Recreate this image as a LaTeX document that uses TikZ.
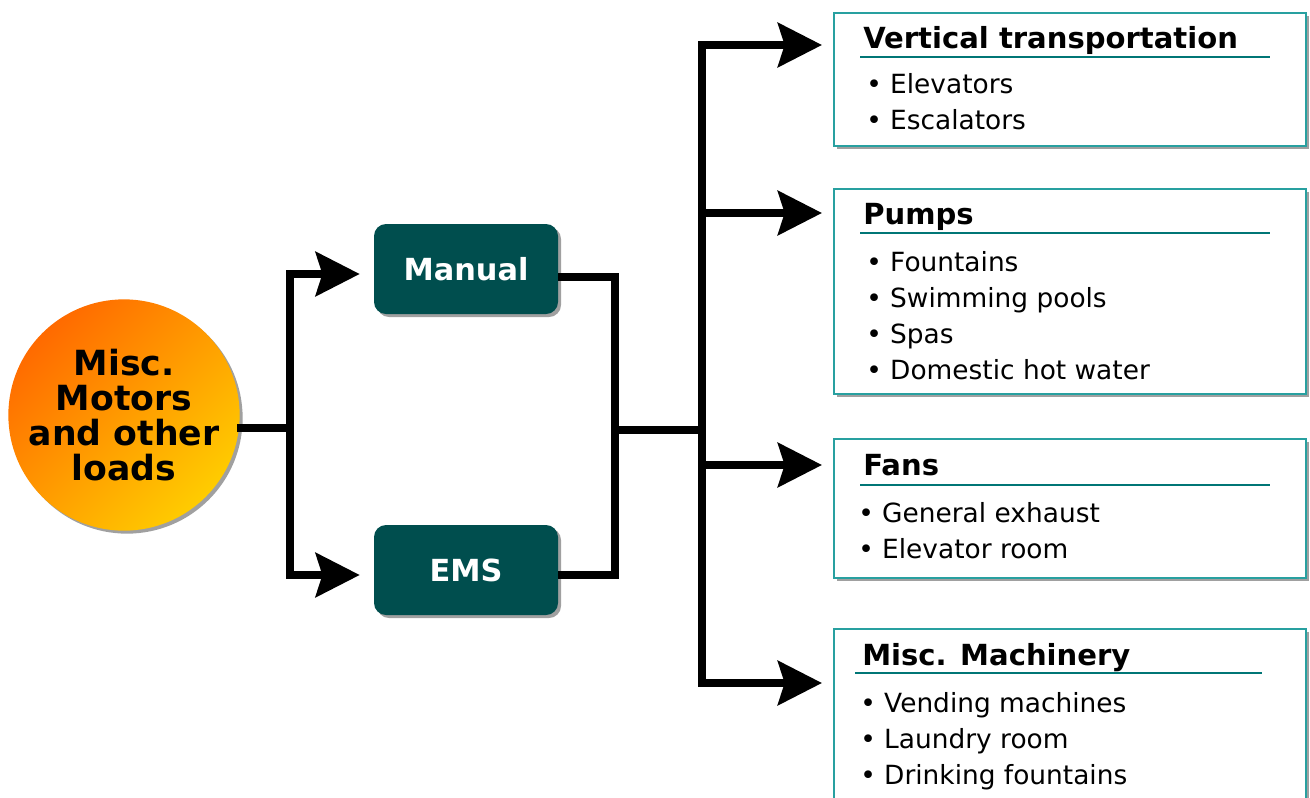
\documentclass[tikz,border=0pt]{standalone}
\usepackage{fontspec}
\setmainfont{DejaVu Sans}
\usetikzlibrary{arrows.meta,shadows,calc}
\definecolor{deepteal}{RGB}{0,78,78}
\definecolor{frameteal}{RGB}{40,160,160}
\definecolor{ruleteal}{RGB}{0,118,118}
\definecolor{hotorange}{RGB}{255,106,0}
\definecolor{sunyellow}{RGB}{255,204,0}
\definecolor{shadowgrey}{RGB}{160,160,160}

\begin{document}
\begin{tikzpicture}[x=0.75pt,y=-0.75pt,
  wire/.style={line width=6pt, line cap=butt, line join=miter},
  arr/.style={wire, -{Stealth[length=33pt,width=33pt,inset=5pt]}},
  dshadow/.style={drop shadow={shadow xshift=2.25pt, shadow yshift=-2.25pt, fill=shadowgrey, opacity=1}},
  source/.style={circle, minimum size=171pt, inner sep=0pt, align=center,
    left color=hotorange, right color=sunyellow, shading angle=45, dshadow,
    font=\bfseries\fontsize{26}{26.25}\selectfont},
  mode/.style={rounded corners=9pt, fill=deepteal, text=white, dshadow,
    minimum width=138pt, minimum height=67.5pt,
    font=\bfseries\fontsize{22.8}{27}\selectfont},
  panel/.style={draw=frameteal, line width=1.2pt, fill=white, dshadow,
    anchor=north west, minimum width=354pt, inner sep=0pt},
  title/.style={anchor=base west, inner sep=0pt, font=\bfseries\fontsize{21.8}{25}\selectfont},
  item/.style={anchor=base west, inner sep=0pt, font=\fontsize{19.8}{27}\selectfont},
  uline/.style={draw=ruleteal, line width=1.5pt}
]
\useasboundingbox (0,0) rectangle (1310,797);

% source of the loads
\node[source] (src) at (124,415) {Misc.\\Motors\\and other\\loads};

% control modes
\node[mode] (manual) at (466,269) {Manual};
\node[mode] (ems) at (466,570) {EMS};

% load categories
\node[panel, minimum height=99.75pt] (vt) at (833,12) {};
\node[panel, minimum height=153.75pt] (pumps) at (833,188) {};
\node[panel, minimum height=104.25pt] (fans) at (833,438) {};
\node[panel, minimum height=136.5pt] (mach) at (833,628) {};

% panel contents
\node[title] (vtT) at (863,48) {Vertical transportation};
\draw[uline] (860,57) -- (1270,57);
\node[item] at (866,93) {• Elevators};
\node[item] at (866,129) {• Escalators};

\node[title] (pumpsT) at (863,224) {Pumps};
\draw[uline] (860,233) -- (1270,233);
\node[item] at (866,271) {• Fountains};
\node[item] at (866,307) {• Swimming pools};
\node[item] at (866,343) {• Spas};
\node[item] at (866,379) {• Domestic hot water};

\node[title] (fansT) at (863,475) {Fans};
\node[item] at (858,522) {• General exhaust};
\node[item] at (858,558) {• Elevator room};
\draw[uline] (860,485) -- (1270,485);

\node[title] (machT) at (862,665) {Misc. Machinery};
\draw[uline] (855,673) -- (1262,673);
\node[item] at (860,712) {• Vending machines};
\node[item] at (860,748) {• Laundry room};
\node[item] at (860,784) {• Drinking fountains};

% wiring: source to modes
\coordinate (fork) at (290,428);
\draw[wire] ($(src.center)+(113,13)$) -- (fork);
\draw[arr] (fork) |- ($(manual.west)+(-14,5)$);
\draw[arr] (fork) |- ($(ems.west)+(-14,5)$);

% wiring: modes to load categories
\coordinate (join) at (615,430);
\coordinate (spine) at (702,430);
\draw[wire] ($(manual.east)+(0,8)$) -| (join) |- ($(ems.east)+(0,5)$);
\draw[wire] (join) -- (spine);
\coordinate (r1) at (0,45);
\coordinate (r2) at (0,213);
\coordinate (r3) at (0,465);
\coordinate (r4) at (0,683);
\draw[arr] (spine) |- ([xshift=-8.25pt]vt.west |- r1);
\draw[arr] (spine) |- ([xshift=-8.25pt]pumps.west |- r2);
\draw[arr] (spine) |- ([xshift=-8.25pt]fans.west |- r3);
\draw[arr] (spine) |- ([xshift=-8.25pt]mach.west |- r4);
\end{tikzpicture}
\end{document}
